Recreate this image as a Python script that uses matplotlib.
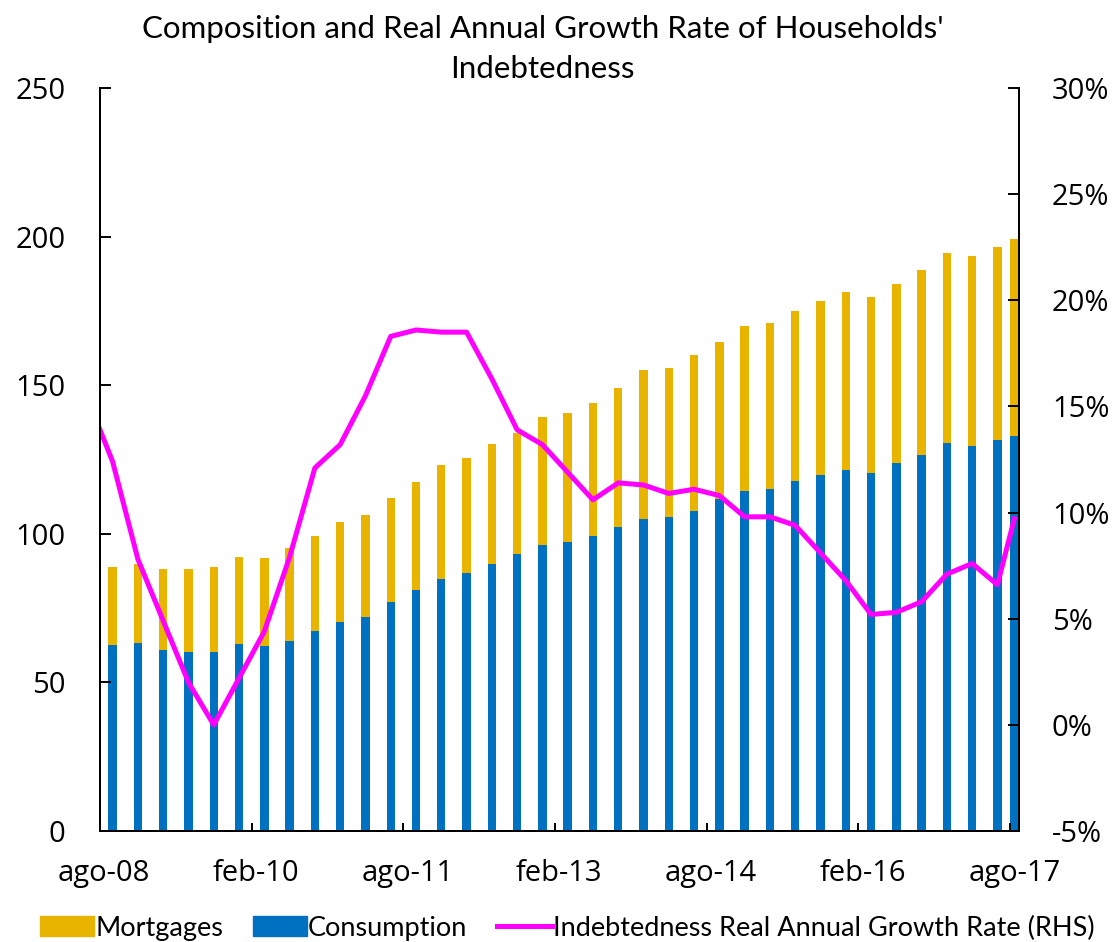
import pandas as pd
import matplotlib
matplotlib.use("Agg")
import matplotlib.pyplot as plt
from matplotlib.patches import Patch
from matplotlib.lines import Line2D

# Quarterly data points (sep-08 ... jun-17) plus the latest observation (ago-17)
barDates = list(pd.date_range("2008-09-01", "2017-06-01", freq="3MS")) + [pd.Timestamp("2017-08-01")]

# Consumption credit (blue, bottom of the stack)
consumption = [62.6, 63.1, 60.9, 60.3, 60.3, 62.9, 62.3, 64.0, 67.3, 70.4,
               72.1, 77.0, 81.1, 84.8, 86.9, 90.0, 93.2, 96.2, 97.3, 99.3,
               102.4, 105.1, 105.5, 107.8, 111.8, 114.4, 115.0, 117.7, 119.9, 121.6,
               120.5, 123.8, 126.4, 130.5, 129.4, 131.5, 132.9]

# Mortgages (yellow, stacked on top)
mortgages = [26.3, 26.9, 27.4, 28.0, 28.6, 29.4, 29.7, 31.1, 32.1, 33.7,
             34.2, 35.2, 36.4, 38.3, 38.7, 40.2, 40.6, 43.2, 43.2, 44.6,
             46.7, 50.0, 50.3, 52.4, 52.9, 55.6, 56.0, 57.3, 58.3, 59.9,
             59.3, 60.2, 62.3, 63.9, 64.1, 64.9, 66.2]

# Real annual growth rate (%) - the series starts one quarter before the axis (jun-08)
lineDates = [pd.Timestamp("2008-06-01")] + barDates
growth = [15.4,
          12.4, 7.8, 4.9, 2.0, 0.0, 2.2, 4.4, 7.9, 12.1, 13.2,
          15.5, 18.3, 18.6, 18.5, 18.5, 16.3, 13.9, 13.2, 11.9, 10.6,
          11.4, 11.3, 10.9, 11.1, 10.8, 9.8, 9.8, 9.4, 8.1, 6.8,
          5.2, 5.3, 5.8, 7.1, 7.6, 6.6, 9.7]

tickLabels = ["ago-08", "feb-10", "ago-11", "feb-13", "ago-14", "feb-16", "ago-17"]

start = pd.Timestamp("2008-08-01")


def monthIndex(d):
    return (d.year - start.year) * 12 + (d.month - start.month)


xBar = [monthIndex(d) for d in barDates]
xLine = [monthIndex(d) for d in lineDates]
xLabels = [18 * i for i in range(len(tickLabels))]

yellow = "#E8B400"
blue = "#0070C0"
magenta = "#FF00FF"
tickFont = "Open Sans"
textFont = "Lato"

fig = plt.figure(figsize=(11.14, 9.42), dpi=100)
ax = fig.add_axes([100 / 1114, 1 - 831 / 942, 918.5 / 1114, 743 / 942])

ax.bar(xBar, consumption, width=1.0, color=blue, linewidth=0)
ax.bar(xBar, mortgages, bottom=consumption, width=1.0, color=yellow, linewidth=0)
ax.set_xlim(-0.5, 108.5)
ax.set_ylim(0, 250)

ax2 = ax.twinx()
ax2.plot(xLine, growth, color=magenta, linewidth=3.6, solid_joinstyle="round")
ax2.set_ylim(-5, 30)
ax2.set_xlim(-0.5, 108.5)

# axes styling
for a in (ax, ax2):
    a.spines["top"].set_visible(False)
    for s in ("left", "right", "bottom"):
        a.spines[s].set_linewidth(1.4)

ax.set_yticks(range(0, 251, 50))
ax.tick_params(axis="y", direction="in", length=8, width=1.4, pad=25, labelsize=21)
ax2.set_yticks(range(-5, 31, 5))
ax2.set_yticklabels([f"{v}%" for v in range(-5, 31, 5)])
ax2.tick_params(axis="y", direction="in", length=7.7, width=1.4, pad=24, labelsize=21)

ax.set_xticks(xLabels)
ax.set_xticklabels(tickLabels)
ax.tick_params(axis="x", which="major", length=0, pad=20.5, labelsize=21)
ax.set_xticks([v - 0.5 for v in xLabels], minor=True)
ax.tick_params(axis="x", which="minor", direction="in", length=6, width=1.4)

for lbl in ax.get_xticklabels() + ax.get_yticklabels() + ax2.get_yticklabels():
    lbl.set_fontfamily(tickFont)

fig.text(0.487, 1 - 49 / 942,
         "Composition and Real Annual Growth Rate of Households'\nIndebtedness",
         ha="center", va="center", fontsize=22.5, family=textFont, linespacing=1.5)

handles = [Patch(color=yellow), Patch(color=blue), Line2D([0], [0], color=magenta, linewidth=3.6)]
labels = ["Mortgages", "Consumption", "Indebtedness Real Annual Growth Rate (RHS)"]
fig.legend(handles, labels, loc="center", bbox_to_anchor=(0.509, 1 - 928 / 942), ncol=3,
           frameon=False, prop={"family": textFont, "size": 19.5},
           handlelength=2.0, handleheight=0.8, handletextpad=0.05, columnspacing=1.1)

fig.savefig("out.png", dpi=100)
